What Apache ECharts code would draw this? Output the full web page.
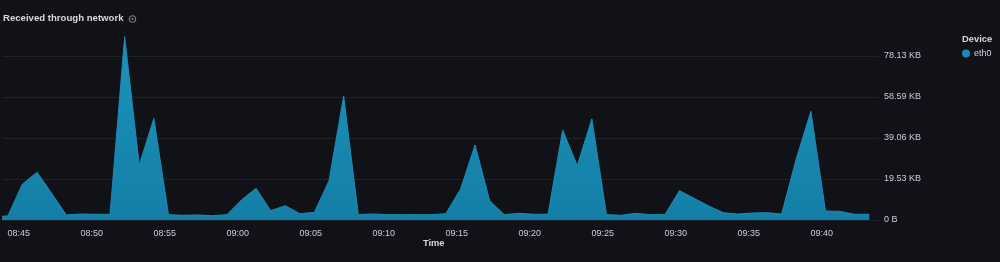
<!DOCTYPE html>
<html>
<head>
<meta charset="utf-8">
<script src="https://cdn.jsdelivr.net/npm/echarts@6/dist/echarts.min.js"></script>
<style>
html,body{margin:0;padding:0;background:#111217;}
#c{width:1000px;height:262px;}
</style>
</head>
<body>
<div id="c"></div>
<script>
// Sample times (HH:MM:SS) and bytes received per sample
const times = [
  '08:43:15','08:44:15','08:45:15','08:46:15','08:47:15','08:48:15','08:49:15','08:50:15','08:51:15','08:52:15',
  '08:53:15','08:54:15','08:55:15','08:56:15','08:57:15','08:58:15','08:59:15','09:00:15','09:01:15','09:02:15',
  '09:03:15','09:04:15','09:05:15','09:06:15','09:07:15','09:08:15','09:09:15','09:10:15','09:11:15','09:12:15',
  '09:13:15','09:14:15','09:15:15','09:16:15','09:17:15','09:18:15','09:19:15','09:20:15','09:21:15','09:22:15',
  '09:23:15','09:24:15','09:25:15','09:26:15','09:27:15','09:28:15','09:29:15','09:30:15','09:31:15','09:32:15',
  '09:33:15','09:34:15','09:35:15','09:36:15','09:37:15','09:38:15','09:39:15','09:40:15','09:41:15','09:42:15',
  '09:43:15'
];
const received = [
  1700, 1950, 17560, 23280, 13000, 2500, 2900, 2800, 2800, 89450,
  26800, 49600, 2600, 2300, 2450, 2100, 2600, 9760, 15470, 4540,
  6980, 3090, 3740, 19200, 60500, 2600, 2930, 2600, 2600, 2600,
  2600, 3090, 14960, 36600, 9430, 2600, 3250, 2800, 2800, 43900,
  26500, 49300, 2600, 2300, 3250, 2600, 2600, 14300, 10600, 6830,
  3580, 2900, 3400, 3580, 2900, 29900, 53000, 4390, 4200, 2780,
  2780
];
const seriesName = 'eth0';
const rangeStart = '08:43:55';
const rangeEnd = '09:43:55';
const xTickLabels = ['08:45','08:50','08:55','09:00','09:05','09:10','09:15','09:20','09:25','09:30','09:35','09:40'];
const yTicks = [0, 20000, 40000, 60000, 80000];

// seconds since midnight
function toSec(s){
  const p = s.split(':').map(Number);
  return p[0] * 3600 + p[1] * 60 + (p[2] || 0);
}
function fmtBytes(v){
  if (v === 0) return '0 B';
  return (v / 1024).toFixed(2) + ' KB';
}
function fmtTime(v){
  const h = Math.floor(v / 3600), m = Math.floor((v % 3600) / 60);
  return String(h).padStart(2,'0') + ':' + String(m).padStart(2,'0');
}

const data = times.map((t, i) => [toSec(t), received[i]]);
const xTickValues = xTickLabels.map(toSec);

const chart = echarts.init(document.getElementById('c'), null, {renderer: 'canvas'});
chart.setOption({
  backgroundColor: '#111217',
  animation: false,
  textStyle: {fontFamily: 'Liberation Sans, Arial, sans-serif'},
  grid: {left: 3, right: 121, top: 35.5, bottom: 42, outerBoundsMode: 'none', containLabel: false},
  legend: {
    data: [seriesName],
    left: 962, top: 49,
    icon: 'circle',
    itemWidth: 8, itemHeight: 8,
    itemGap: 5,
    textStyle: {color: '#ccccdc', fontSize: 9, padding: [0,0,0,-1]},
    padding: 0
  },
  xAxis: {
    type: 'value',
    min: toSec(rangeStart),
    max: toSec(rangeEnd),
    axisLine: {show: false},
    axisTick: {show: false},
    splitLine: {show: false},
    axisLabel: {
      color: '#ccccdc', fontSize: 9, margin: 9,
      customValues: xTickValues,
      formatter: function(v){ return fmtTime(v); }
    }
  },
  yAxis: {
    type: 'value',
    position: 'right',
    min: yTicks[0],
    max: 90000,
    interval: 20000,
    axisLine: {show: false},
    axisTick: {show: false},
    axisLabel: {
      color: '#ccccdc', fontSize: 9, margin: 5,
      showMaxLabel: false,
      formatter: function(v){ return yTicks.indexOf(v) >= 0 ? fmtBytes(v) : ''; }
    },
    splitLine: {show: true, showMaxLine: false, lineStyle: {color: 'rgba(204,204,220,0.09)', width: 1}}
  },
  series: [{
    name: seriesName,
    type: 'line',
    data: data,
    showSymbol: false,
    symbol: 'none',
    clip: true,
    color: '#1a8bb3',
    lineStyle: {width: 1, color: '#1a8db5'},
    areaStyle: {
      opacity: 1,
      color: new echarts.graphic.LinearGradient(0, 0, 0, 1, [
        {offset: 0, color: '#1c93bb'},
        {offset: 1, color: '#147fa6'}
      ])
    }
  }],
  graphic: [
    {type: 'text', left: 3, top: 13, style: {text: 'Received through network', fill: '#d8d9da', font: 'bold 9.6px Liberation Sans, Arial, sans-serif'}},
    {type: 'circle', shape: {cx: 132.5, cy: 19, r: 3.3}, style: {fill: 'none', stroke: '#8e8e98', lineWidth: 1}},
    {type: 'circle', shape: {cx: 132.5, cy: 19, r: 1}, style: {fill: '#8e8e98'}},
    {type: 'text', left: 962, top: 35, style: {text: 'Device', fill: '#d8d9da', font: 'bold 9.4px Liberation Sans, Arial, sans-serif'}},
    {type: 'text', left: 423, top: 239, style: {text: 'Time', fill: '#d8d9da', font: 'bold 9.3px Liberation Sans, Arial, sans-serif'}}
  ]
});
</script>
</body>
</html>
